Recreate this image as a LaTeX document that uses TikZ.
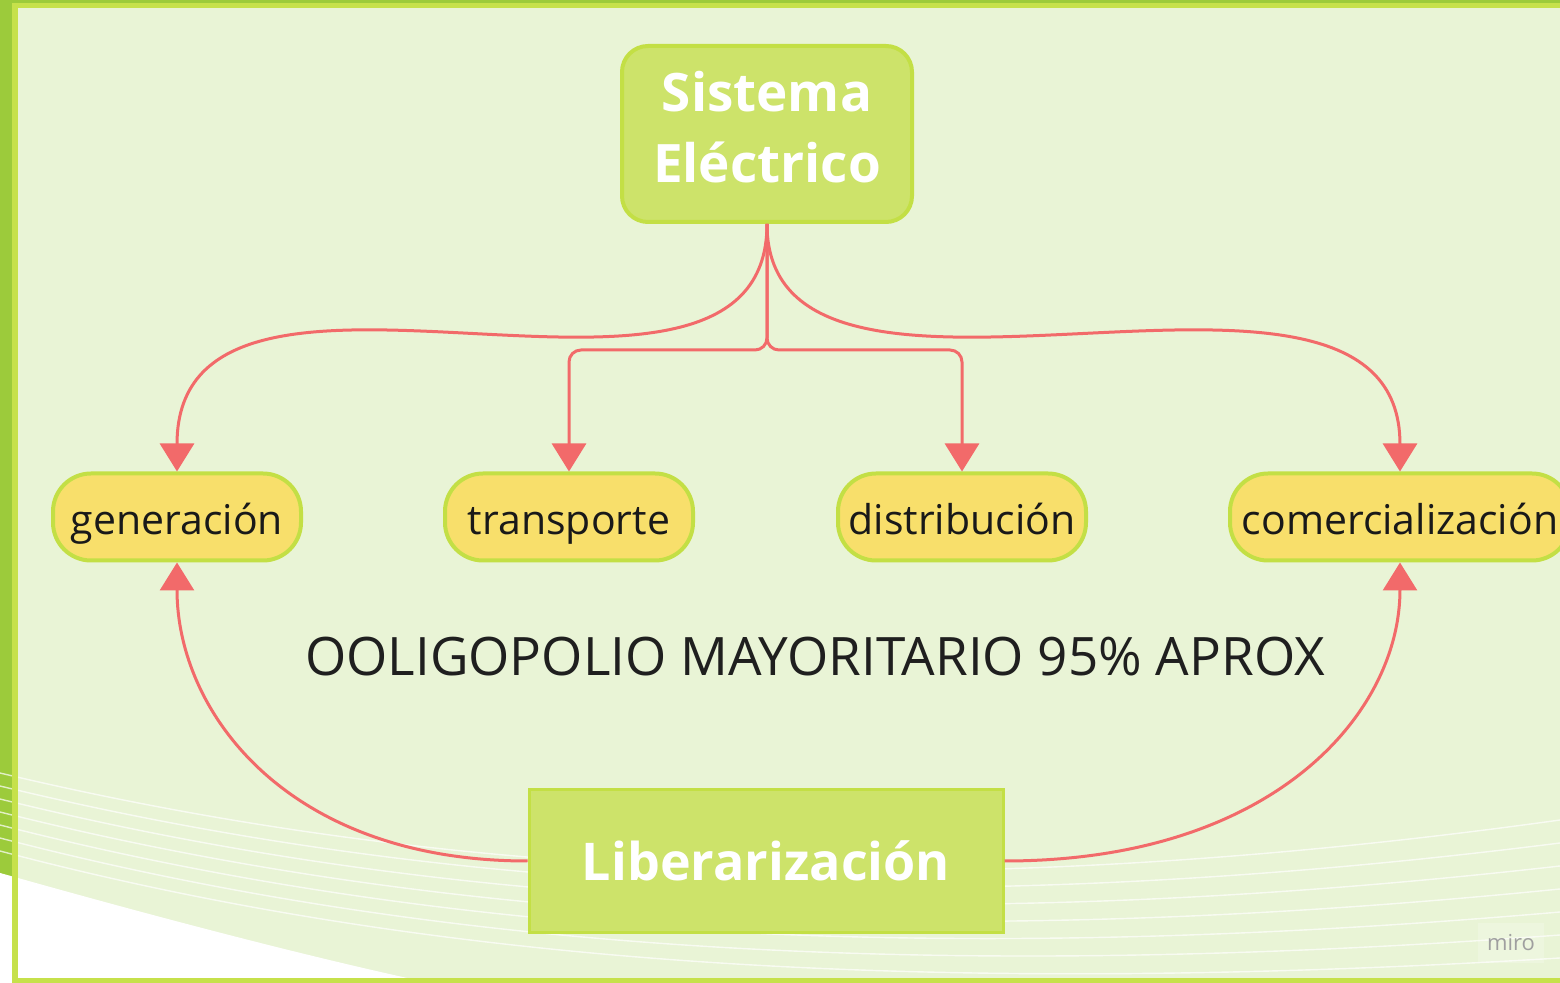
\documentclass[tikz,border=0pt]{standalone}
\usepackage{fontspec}
\setmainfont{Open Sans}
\usetikzlibrary{arrows.meta}
\definecolor{bgGreen}{HTML}{E9F4D6}
\definecolor{frameDark}{HTML}{9CCB3B}
\definecolor{frameLight}{HTML}{C6E14B}
\definecolor{boxGreen}{HTML}{CDE36A}
\definecolor{boxEdge}{HTML}{C3DF45}
\definecolor{stageFill}{HTML}{F8DF6B}
\definecolor{arrowRed}{HTML}{F26A6A}
\tikzset{
  mainbox/.style={draw=boxEdge, line width=2pt, fill=boxGreen},
  maintext/.style={text=white, font=\bfseries\fontsize{26.5}{35.5}\selectfont, align=center},
  stagebox/.style={draw=boxEdge, line width=2pt, fill=stageFill, rounded corners=19pt,
    minimum height=43.5pt, minimum width=124pt, inner sep=0pt, text height=18.5pt, text depth=0.5pt,
    font=\fontsize{20.5}{25}\selectfont, text=black!90},
  conn/.style={arrowRed, line width=1.5pt, -{Triangle[length=14pt,width=17pt]}},
}
\begin{document}
\begin{tikzpicture}[x=0.5pt,y=-0.5pt]
\useasboundingbox (0,0) rectangle (1560,983);
% background and frame
\fill[bgGreen] (0,0) rectangle (1560,983);
\fill[frameDark] (0,0) -- (12,0) -- (12,878) -- (0,873) -- cycle;
\fill[white] (0,873) -- (18,878) .. controls (150,915) and (300,955) .. (430,983) -- (0,983) -- cycle;
\foreach \i in {0,...,6}
  \draw[white, line width=0.7pt, opacity=0.7] (0,{773+13*\i}) .. controls (450,{880+15*\i}) and (950,{905+15*\i}) .. (1560,{820+23*\i});
\fill[frameDark] (0,0) rectangle (1560,3);
\fill[frameLight] (12,3) rectangle (1560,8);
\fill[frameLight] (12,3) rectangle (18,983);
\fill[frameLight] (12,978) rectangle (1560,983);

% nodes
\node[mainbox, rounded corners=13pt, minimum width=145pt, minimum height=88pt] (sys) at (767,134) {};
\node[maintext] (systxt) at (767,127) {Sistema\\Eléctrico};
\node[stagebox] (gen) at (177,517) {generación};
\node[stagebox] (trans) at (569,517) {transporte};
\node[stagebox] (dist) at (962,517) {distribución};
\node[stagebox, minimum width=170pt] (com) at (1400,517) {comercialización};
\node[font=\fontsize{26.5}{31}\selectfont, text=black!88] (olig) at (815,657) {OOLIGOPOLIO MAYORITARIO 95\% APROX};
\node[mainbox, maintext, font=\bfseries\fontsize{26}{31}\selectfont, line width=1.5pt,
  minimum width=237pt, minimum height=71.5pt] (lib) at (766,861) {Liberarización};
\node[fill=white, fill opacity=0.2, text opacity=1, text=gray!75, font=\fontsize{11}{13}\selectfont,
  minimum width=33pt, minimum height=20pt] (miro) at (1511,943) {miro};

% connectors
\draw[conn] (sys.south) .. controls +(0,250) and +(0,-279) .. (gen.north);
\draw[conn] (sys.south) .. controls +(0,250) and +(0,-279) .. (com.north);
\draw[conn, rounded corners=6pt] (sys.south) -- ++(0,126) -| (trans.north);
\draw[conn, rounded corners=6pt] (sys.south) -- ++(0,126) -| (dist.north);
\draw[conn] (lib.west) .. controls +(-240,0) and +(0,150) .. (gen.south);
\draw[conn] (lib.east) .. controls +(270,0) and +(0,150) .. (com.south);
\end{tikzpicture}
\end{document}
